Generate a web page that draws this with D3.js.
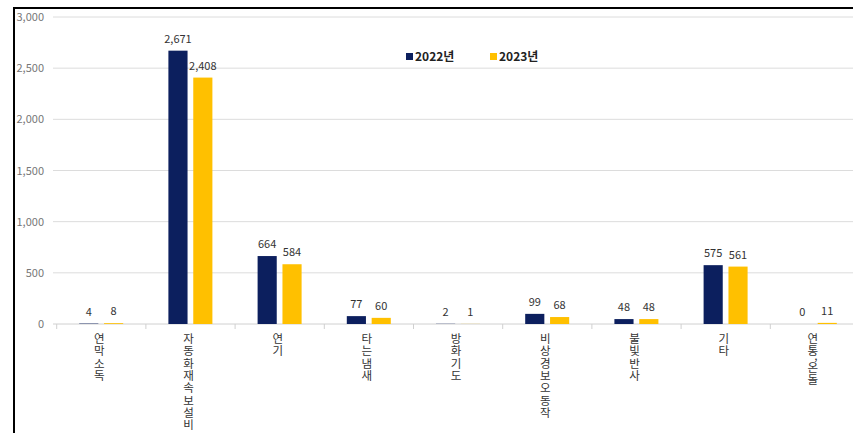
<!DOCTYPE html>
<html><head><meta charset="utf-8">
<script src="https://cdn.jsdelivr.net/npm/d3@7"></script>
<style>
html,body{margin:0;padding:0;background:#fff;}
svg{display:block;font-family:"Malgun Gothic","Noto Sans CJK KR",sans-serif;}
</style></head>
<body><svg id="c" width="853" height="433"></svg>
<script>
const categories = ["연막소독","자동화재속보설비","연기","타는냄새","방화기도","비상경보오동작","불빛반사","기타","연통,온돌"];
const series = ["2022년","2023년"];
const values2022 = [4,2671,664,77,2,99,48,575,0];
const values2023 = [8,2408,584,60,1,68,48,561,11];
const yTicks = [0,500,1000,1500,2000,2500,3000];
const colors = ["#0c1f5e","#ffc000"];

const svg = d3.select("#c");
const x0 = d3.scaleBand().domain(categories).range([56.7, 859.5]).paddingInner(0).paddingOuter(0);
const x1 = d3.scaleBand().domain(series).range([22.5, 66.5]).paddingInner(0.23);
const y = d3.scaleLinear().domain([0,3000]).range([324, 17]);

// gridlines
svg.append("g").selectAll("line").data(yTicks).join("line")
  .attr("x1", 53).attr("x2", 853)
  .attr("y1", d=>y(d)).attr("y2", d=>y(d))
  .attr("stroke", d=> d===0 ? "#d0d0d0" : "#dcdcdc").attr("stroke-width",1);

// y labels
svg.append("g").selectAll("text").data(yTicks).join("text")
  .attr("x", 44).attr("y", d=>y(d)+4)
  .attr("text-anchor","end").attr("font-size",11).attr("fill","#777")
  .text(d=>d3.format(",")(d));

// x ticks at boundaries
const bounds = categories.map(c=>x0(c)).concat([x0(categories[categories.length-1])+x0.bandwidth()]);
svg.append("g").selectAll("line").data(bounds).join("line")
  .attr("x1",d=>d).attr("x2",d=>d).attr("y1",324).attr("y2",329)
  .attr("stroke","#d0d0d0");

const data = [values2022, values2023];
series.forEach((s,i)=>{
  const g = svg.append("g");
  g.selectAll("rect").data(categories).join("rect")
    .attr("x", c=>x0(c)+x1(s))
    .attr("width", x1.bandwidth())
    .attr("y", (c,j)=>y(data[i][j]))
    .attr("height", (c,j)=>y(0)-y(data[i][j]))
    .attr("fill", colors[i]);
  g.selectAll("text").data(categories).join("text")
    .attr("x", c=>x0(c)+x1(s)+x1.bandwidth()/2)
    .attr("y", (c,j)=>y(data[i][j])-8)
    .attr("text-anchor","middle").attr("font-size",11).attr("fill","#333")
    .text((c,j)=>d3.format(",")(data[i][j]));
});

// x labels: characters stacked vertically
const xg = svg.append("g");
categories.forEach(c=>{
  const cx = x0(c)+x0.bandwidth()/2 - 2;
  let yy = 343;
  Array.from(c).forEach(ch=>{
    if (ch === ",") {
      xg.append("text").attr("x",cx+3).attr("y",yy-8)
        .attr("font-size",11.5).attr("fill","#333").attr("text-anchor","middle").text(ch);
      yy += 4;
    } else {
      xg.append("text").attr("x",cx).attr("y",yy)
        .attr("font-size",11.5).attr("fill","#333").attr("text-anchor","middle").text(ch);
      yy += 12.3;
    }
  });
});

// legend
const leg = svg.append("g");
const legX = [406, 490];
series.forEach((s,i)=>{
  leg.append("rect").attr("x",legX[i]).attr("y",53).attr("width",7).attr("height",7).attr("fill",colors[i]);
  leg.append("text").attr("x",legX[i]+9).attr("y",61).attr("font-size",12).attr("font-weight","bold").attr("fill","#222").text(s);
});

// frame
svg.append("path").attr("d","M14,433 L14,8 L853,8").attr("fill","none").attr("stroke","#000").attr("stroke-width",2);
</script></body></html>
